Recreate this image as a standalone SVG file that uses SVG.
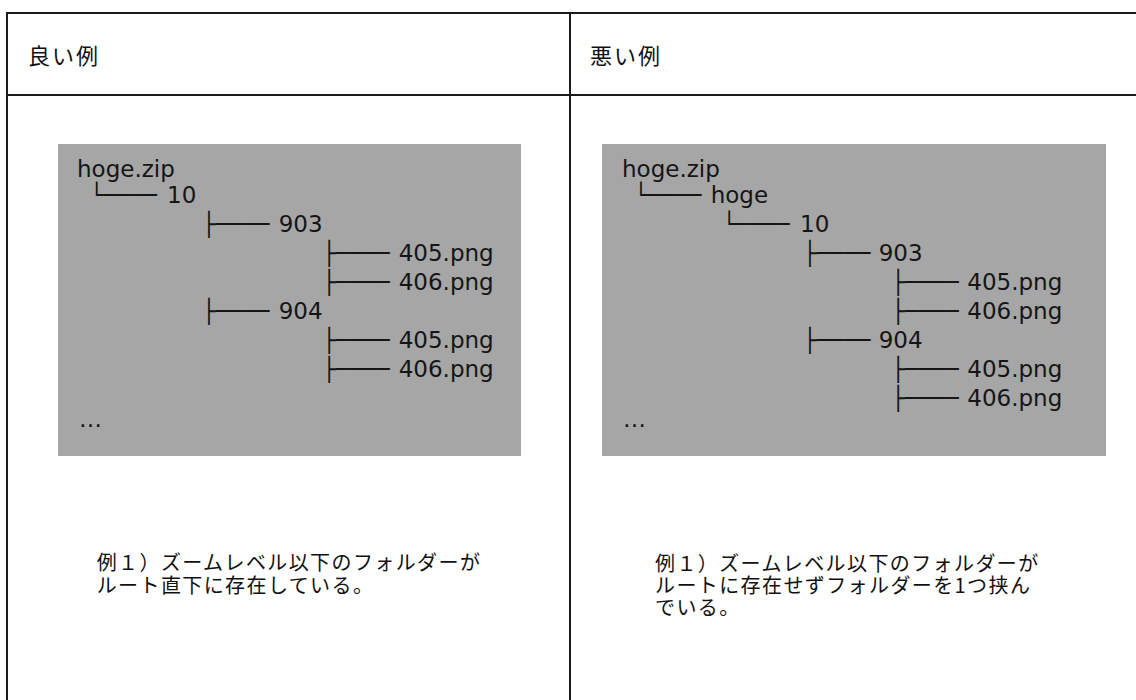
<svg xmlns="http://www.w3.org/2000/svg" width="1136" height="700" viewBox="0 0 1136 700">
  <style>
    .frame { fill: none; stroke: #1a1a1a; stroke-width: 2; }
    .panel { fill: #a6a6a6; }
    .tree { font-family: "DejaVu Sans", Verdana, sans-serif; font-size: 23px; fill: #151515; }
    .hdr { font-family: "Noto Sans CJK JP", sans-serif; font-size: 22px; letter-spacing: 2px; fill: #111111; }
    .note { font-family: "Noto Sans CJK JP", sans-serif; font-size: 20px; letter-spacing: 1.4px; fill: #111111; }
  </style>
  <rect x="0" y="0" width="1136" height="700" fill="#ffffff"/>

  <g id="table">
    <line class="frame" x1="7" y1="13" x2="1136" y2="13"/>
    <line class="frame" x1="7" y1="95" x2="1136" y2="95"/>
    <line class="frame" x1="7" y1="12" x2="7" y2="700"/>
    <line class="frame" x1="570" y1="12" x2="570" y2="700"/>
  </g>

  <g id="header-good">
    <text class="hdr" x="28" y="64">良い例</text>
  </g>
  <g id="header-bad">
    <text class="hdr" x="590" y="64">悪い例</text>
  </g>

  <g id="good-tree">
    <rect class="panel" x="58" y="144" width="463" height="312"/>
    <text class="tree" x="77" y="177">hoge.zip</text>
    <text class="tree" x="167" y="203">10</text>
    <text class="tree" x="278.7" y="232">903</text>
    <text class="tree" x="398.7" y="261">405.png</text>
    <text class="tree" x="398.7" y="290">406.png</text>
    <text class="tree" x="278.7" y="319">904</text>
    <text class="tree" x="398.7" y="348">405.png</text>
    <text class="tree" x="398.7" y="377">406.png</text>
    <text class="tree" x="79" y="427">…</text>
  </g>

  <g id="bad-tree">
    <rect class="panel" x="602" y="144" width="504" height="312"/>
    <text class="tree" x="622" y="177">hoge.zip</text>
    <text class="tree" x="710.7" y="203">hoge</text>
    <text class="tree" x="800" y="232">10</text>
    <text class="tree" x="878.7" y="261">903</text>
    <text class="tree" x="967.3" y="290">405.png</text>
    <text class="tree" x="967.3" y="319">406.png</text>
    <text class="tree" x="878.7" y="348">904</text>
    <text class="tree" x="967.3" y="377">405.png</text>
    <text class="tree" x="967.3" y="406">406.png</text>
    <text class="tree" x="623" y="427">…</text>
  </g>

  <g id="connectors">
    <text class="tree" x="90" y="203" textLength="67" lengthAdjust="spacingAndGlyphs">└────</text>
    <text class="tree" x="202.3" y="232" textLength="67" lengthAdjust="spacingAndGlyphs">├────</text>
    <text class="tree" x="322.6" y="261" textLength="67" lengthAdjust="spacingAndGlyphs">├────</text>
    <text class="tree" x="322.6" y="290" textLength="67" lengthAdjust="spacingAndGlyphs">├────</text>
    <text class="tree" x="202.3" y="319" textLength="67" lengthAdjust="spacingAndGlyphs">├────</text>
    <text class="tree" x="322.6" y="348" textLength="67" lengthAdjust="spacingAndGlyphs">├────</text>
    <text class="tree" x="322.6" y="377" textLength="67" lengthAdjust="spacingAndGlyphs">├────</text>

    <text class="tree" x="634.3" y="203" textLength="67" lengthAdjust="spacingAndGlyphs">└────</text>
    <text class="tree" x="722.6" y="232" textLength="67" lengthAdjust="spacingAndGlyphs">└────</text>
    <text class="tree" x="803.3" y="261" textLength="67" lengthAdjust="spacingAndGlyphs">├────</text>
    <text class="tree" x="891.6" y="290" textLength="67" lengthAdjust="spacingAndGlyphs">├────</text>
    <text class="tree" x="891.6" y="319" textLength="67" lengthAdjust="spacingAndGlyphs">├────</text>
    <text class="tree" x="803.3" y="348" textLength="67" lengthAdjust="spacingAndGlyphs">├────</text>
    <text class="tree" x="891.6" y="377" textLength="67" lengthAdjust="spacingAndGlyphs">├────</text>
    <text class="tree" x="891.6" y="406" textLength="67" lengthAdjust="spacingAndGlyphs">├────</text>
  </g>

  <g id="note-good">
    <text class="note" x="96.7" y="569.5">例１）ズームレベル以下のフォルダーが<tspan x="96.7" dy="23">ルート直下に存在している。</tspan></text>
  </g>
  <g id="note-bad">
    <text class="note" x="655" y="571">例１）ズームレベル以下のフォルダーが<tspan x="655" dy="22">ルートに存在せずフォルダーを1つ挟ん</tspan><tspan x="655" dy="22">でいる。</tspan></text>
  </g>
</svg>
